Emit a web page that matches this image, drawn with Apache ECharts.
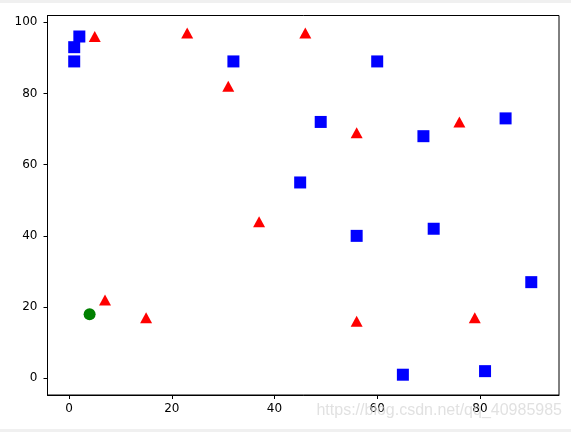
<!DOCTYPE html>
<html>
<head>
<meta charset="utf-8">
<script src="https://cdn.jsdelivr.net/npm/echarts@6/dist/echarts.min.js"></script>
<style>
html,body{margin:0;padding:0;background:#f0f0f0;}
#wrap{position:absolute;left:0;top:0;width:571px;height:432px;background:#f0f0f0;}
#chart{position:absolute;left:0;top:3px;width:571px;height:426px;background:#ffffff;}
</style>
</head>
<body>
<div id="wrap"><div id="chart"></div></div>
<script>
const blueSquares = [[1,89],[1,93],[2,96],[32,89],[49,72],[45,55],[60,89],[56,40],[69,68],[71,42],[85,73],[90,27],[65,1],[81,2]];
const redTriangles = [[5,96],[23,97],[31,82],[46,97],[56,69],[76,72],[37,44],[7,22],[15,17],[56,16],[79,17]];
const greenCircles = [[4,18]];
const xTicks = [0,20,40,60,80];
const yTicks = [0,20,40,60,80,100];
const watermark = 'https://blog.csdn.net/qq_40985985';

const chart = echarts.init(document.getElementById('chart'), null, {renderer:'canvas'});
const font = 'DejaVu Sans';
function axis(min, max, ticks, margin) {
  return {
    type: 'value', min: min, max: max,
    axisLine: {show: true, onZero: false, lineStyle: {color: '#000', width: 1}},
    axisTick: {show: true, length: 4, inside: false, customValues: ticks, lineStyle: {color: '#000', width: 1}},
    axisLabel: {show: true, customValues: ticks, color: '#000', fontFamily: font, fontSize: 12, margin: margin},
    splitLine: {show: false}
  };
}
chart.setOption({
  animation: false,
  backgroundColor: '#fff',
  textStyle: {fontFamily: font, fontSize: 12},
  grid: {left: 47.5, top: 12.5, right: 12, bottom: 34, show: true, borderColor: '#000', borderWidth: 1, containLabel: false},
  xAxis: axis(-4.2, 95.4, xTicks, 8),
  yAxis: axis(-4.7, 101.9, yTicks, 10),
  series: [
    {type: 'scatter', data: blueSquares, symbol: 'rect', symbolSize: 12, itemStyle: {color: '#0000ff', opacity: 1}},
    {type: 'scatter', data: redTriangles, symbol: 'triangle', symbolSize: [12, 11], itemStyle: {color: '#ff0000', opacity: 1}},
    {type: 'scatter', data: greenCircles, symbol: 'circle', symbolSize: 12, itemStyle: {color: '#008000', opacity: 1}}
  ],
  graphic: [{
    type: 'text', right: 9, top: 400, z: 100,
    style: {text: watermark, fill: 'rgba(215,215,215,0.75)', font: '16px "Liberation Sans", Arial, sans-serif'}
  }]
});
</script>
</body>
</html>
